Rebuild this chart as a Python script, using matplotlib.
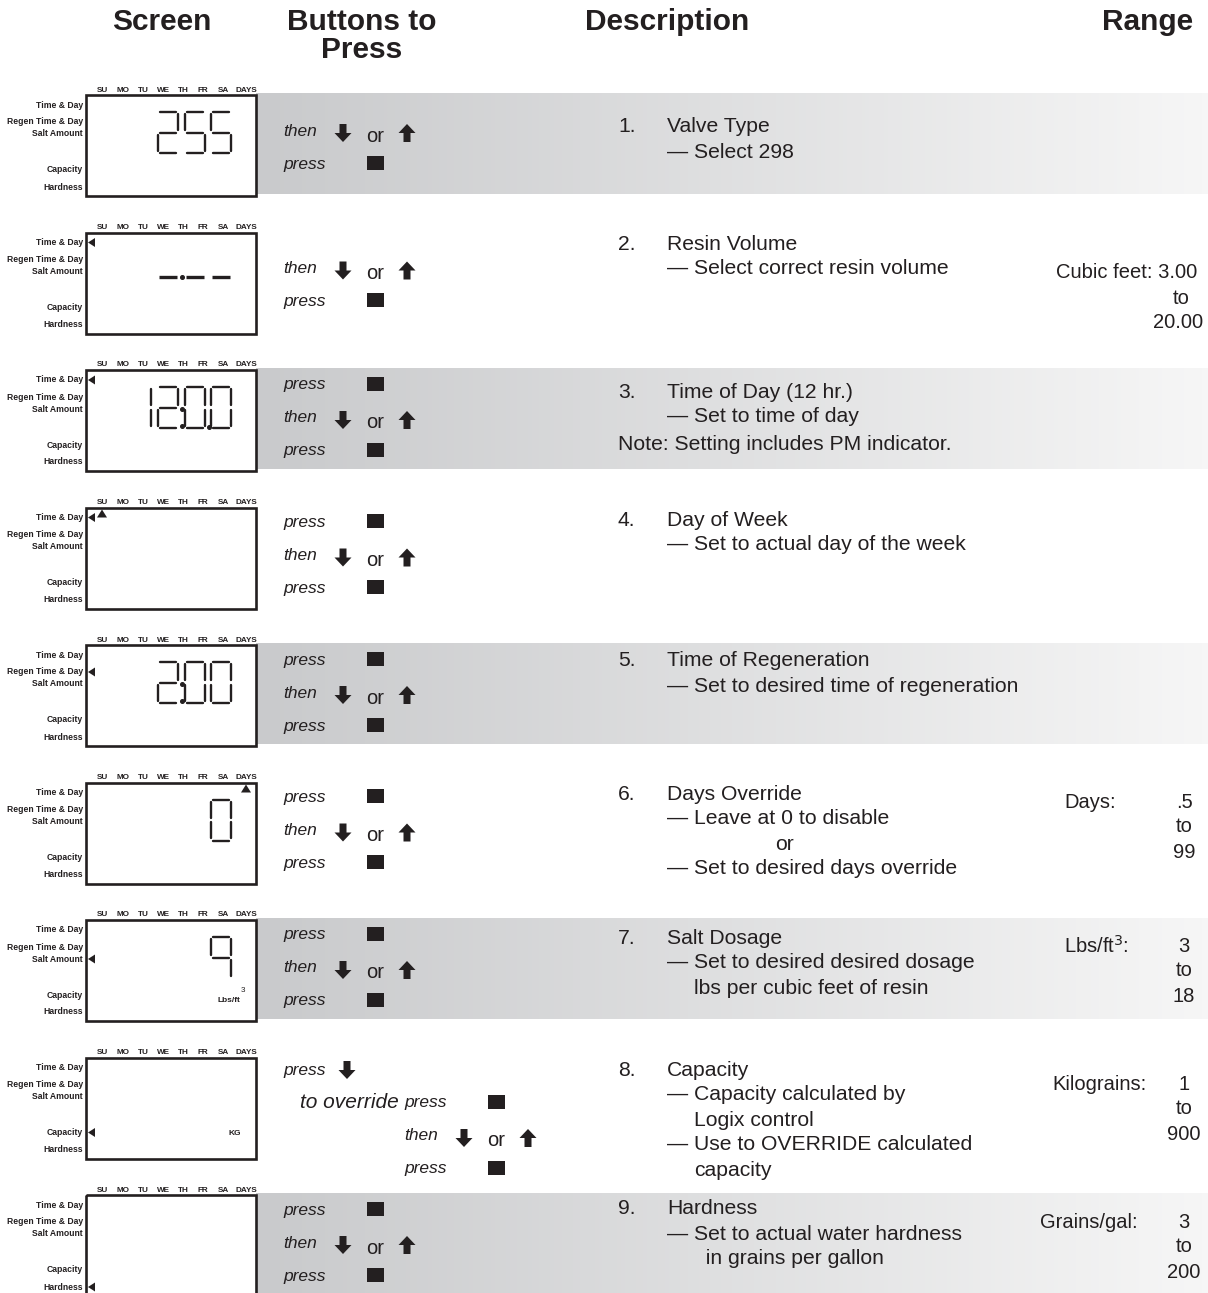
import numpy as np
import matplotlib
matplotlib.use('Agg')
import matplotlib.pyplot as plt
from matplotlib.colors import LinearSegmentedColormap
from matplotlib.patches import Polygon, Rectangle

plt.rcParams['font.family'] = ['Liberation Sans', 'DejaVu Sans']

W, H = 1208, 1293
INK = '#231f20'

# ---- data -------------------------------------------------------------
headers = ['Screen', 'Buttons to\nPress', 'Description', 'Range']

day_names = ['SU', 'MO', 'TU', 'WE', 'TH', 'FR', 'SA', 'DAYS']
side_labels = ['Time & Day', 'Regen Time & Day', 'Salt Amount', 'Capacity', 'Hardness']

# 4 digit slots per screen, extra dots, unit text, pointer arrows
screen_digits = [' 255', ' ---', '1200', '    ', ' 200', '   0', '   9', '    ', '    ']
screen_dots = [[], [('dash', 1)], [('colon', 1), ('point', 2)], [], [('colon', 1)],
               [], [], [], []]
screen_unit = ['', '', '', '', '', '', 'Lbs/ft', 'KG', '']
side_pointer = [None, 0, 0, 0, 1, None, 2, 3, 4]
day_pointer = [None, None, None, 0, None, 7, None, None, None]

button_steps = [
    [('then', 'updown'), ('press', 'set')],
    [('then', 'updown'), ('press', 'set')],
    [('press', 'set'), ('then', 'updown'), ('press', 'set')],
    [('press', 'set'), ('then', 'updown'), ('press', 'set')],
    [('press', 'set'), ('then', 'updown'), ('press', 'set')],
    [('press', 'set'), ('then', 'updown'), ('press', 'set')],
    [('press', 'set'), ('then', 'updown'), ('press', 'set')],
    [('press', 'down'), ('to override|press', 'set'), ('then', 'updown'), ('press', 'set')],
    [('press', 'set'), ('then', 'updown'), ('press', 'set')],
]

desc_titles = ['Valve Type', 'Resin Volume', 'Time of Day (12 hr.)', 'Day of Week',
               'Time of Regeneration', 'Days Override', 'Salt Dosage', 'Capacity', 'Hardness']
desc_lines = [
    ['\u2014 Select 298'],
    ['\u2014 Select correct resin volume'],
    ['\u2014 Set to time of day'],
    ['\u2014 Set to actual day of the week'],
    ['\u2014 Set to desired time of regeneration'],
    ['\u2014 Leave at 0 to disable', 'or', '\u2014 Set to desired days override'],
    ['\u2014 Set to desired desired dosage', 'lbs per cubic feet of resin'],
    ['\u2014 Capacity calculated by', 'Logix control', '\u2014 Use to OVERRIDE calculated',
     'capacity'],
    ['\u2014 Set to actual water hardness', '  in grains per gallon'],
]
desc_note = ['', '', 'Note: Setting includes PM indicator.', '', '', '', '', '', '']

range_labels = ['', 'Cubic feet:', '', '', '', 'Days:', 'Lbs/ft$^3$:', 'Kilograins:', 'Grains/gal:']
range_low = ['', '3.00', '', '', '', '.5', '3', '1', '3']
range_high = ['', '20.00', '', '', '', '99', '18', '900', '200']

# ---- layout (pixels) --------------------------------------------------
ROW0, PITCH = 95, 137.5
BOX_L, BOX_R, BOX_H = 86, 256, 101
slot_left = [131, 158, 185, 211]
day_x = [102, 123, 143, 163, 183, 203, 223, 246]
side_dy = [10, 27, 39, 75, 92]
step_start = {2: 36, 3: 15, 4: 12.5}
desc_dy = [32, 11.5, 22, 12.5, 16, 11.5, 18, 12.5, 14]
range_dy = [0, 40.5, 0, 0, 0, 19.5, 26, 26.5, 27]
range_lx = [0, 0, 0, 0, 0, 1064, 1064, 1052, 1040]
FS = 15.2   # description text size
RS = 14.5   # range text size

SEG = {'0': 'abcdef', '1': 'bc', '2': 'abged', '5': 'afgcd', '9': 'abcfg', '-': 'g'}


def draw_digit(ax, x0, y0, ch, w=20, h=41):
    g = 2.2
    ym = y0 + h / 2
    segs = {
        'a': ((x0 + g, x0 + w - g), (y0, y0)),
        'b': ((x0 + w, x0 + w), (y0 + g, ym - g)),
        'c': ((x0 + w, x0 + w), (ym + g, y0 + h - g)),
        'd': ((x0 + g, x0 + w - g), (y0 + h, y0 + h)),
        'e': ((x0, x0), (ym + g, y0 + h - g)),
        'f': ((x0, x0), (y0 + g, ym - g)),
        'g': ((x0 + g, x0 + w - g), (ym, ym)),
    }
    if ch == '-':
        yy = y0 + h * 0.68
        ax.plot([x0 + 1, x0 + w - 1], [yy, yy], color=INK, lw=2.4, solid_capstyle='butt')
        return
    for s in SEG.get(ch, ''):
        xs, ys = segs[s]
        ax.plot(xs, ys, color=INK, lw=1.7, solid_capstyle='round')


def down_arrow(ax, cx, cy):
    pts = [(cx - 3.5, cy - 9), (cx + 3.5, cy - 9), (cx + 3.5, cy), (cx + 8.5, cy),
           (cx, cy + 9), (cx - 8.5, cy), (cx - 3.5, cy)]
    ax.add_patch(Polygon(pts, closed=True, color=INK, lw=0))


def up_arrow(ax, cx, cy):
    pts = [(cx - 3.5, cy + 9), (cx + 3.5, cy + 9), (cx + 3.5, cy), (cx + 8.5, cy),
           (cx, cy - 9), (cx - 8.5, cy), (cx - 3.5, cy)]
    ax.add_patch(Polygon(pts, closed=True, color=INK, lw=0))


def set_key(ax, cx, cy):
    ax.add_patch(Rectangle((cx - 8.5, cy - 7.5), 17, 14, color=INK, lw=0))


fig = plt.figure(figsize=(W / 100, H / 100), dpi=100)
ax = fig.add_axes([0, 0, 1, 1])
ax.set_xlim(0, W)
ax.set_ylim(H, 0)
ax.axis('off')

# headers
hx = [162, 362, 667, 1148]
for x, t in zip(hx, headers):
    ax.text(x, 8, t, ha='center', va='top', fontsize=21.5, fontweight='bold',
            color=INK, linespacing=0.98)

band_cmap = LinearSegmentedColormap.from_list('band', ['#c9cacc', '#f6f6f6'])
grad = np.linspace(0, 1, 256)[None, :]

for r in range(9):
    top = ROW0 + r * PITCH

    # shaded band on odd rows
    if r % 2 == 0:
        ax.imshow(grad, cmap=band_cmap, extent=(BOX_R, W, top + 99, top - 2),
                  aspect='auto', zorder=0, interpolation='bilinear')

    # ---- screen ----
    ax.add_patch(Rectangle((BOX_L, top), BOX_R - BOX_L, BOX_H, fill=False,
                           edgecolor=INK, lw=1.9, zorder=3))
    for x, d in zip(day_x, day_names):
        ax.text(x, top - 5, d, ha='center', va='center', fontsize=5.9,
                fontweight='bold', color=INK)
    for dy, lab in zip(side_dy, side_labels):
        ax.text(83, top + dy, lab, ha='right', va='center', fontsize=6.2,
                fontweight='bold', color=INK)
    dtop = top + 17
    for k, ch in enumerate(screen_digits[r]):
        if ch != ' ':
            draw_digit(ax, slot_left[k], dtop, ch)
    for kind, k in screen_dots[r]:
        xd = (slot_left[k] + 20 + slot_left[k + 1]) / 2 + 0.5
        if kind == 'dash':
            ax.plot(xd, dtop + 41 * 0.66, 'o', ms=2.6, color=INK)
        elif kind == 'colon':
            ax.plot([xd, xd], [dtop + 22, dtop + 39], 'o', ms=2.6, color=INK, lw=0)
        else:
            ax.plot(xd, dtop + 40, 'o', ms=2.6, color=INK)
    if screen_unit[r] == 'Lbs/ft':
        ax.text(240, top + 80, 'Lbs/ft', ha='right', va='center', fontsize=6,
                fontweight='bold', color=INK)
        ax.text(243, top + 71, '3', ha='center', va='center', fontsize=5.8, color=INK)
    elif screen_unit[r]:
        ax.text(241, top + 76, screen_unit[r], ha='right', va='center', fontsize=6,
                fontweight='bold', color=INK)
    if side_pointer[r] is not None:
        yp = top + side_dy[side_pointer[r]]
        ax.add_patch(Polygon([(88, yp), (95, yp - 4.5), (95, yp + 4.5)], color=INK, lw=0))
    if day_pointer[r] is not None:
        xp = day_x[day_pointer[r]]
        ax.add_patch(Polygon([(xp - 5, top + 10), (xp + 5, top + 10), (xp, top + 2)],
                             color=INK, lw=0))

    # ---- buttons ----
    steps = button_steps[r]
    y = top + step_start[len(steps)]
    for k, (word, key) in enumerate(steps):
        shift = 121 if (r == 7 and k > 0) else 0
        wx = 283 + shift
        if '|' in word:
            pre, word = word.split('|')
            ax.text(wx - 5, y, pre, ha='right', va='center', fontsize=15,
                    style='italic', color=INK)
        ax.text(wx, y, word, ha='left', va='center', fontsize=12.5,
                style='italic', color=INK)
        if key == 'set':
            set_key(ax, 375 + shift, y - 1)
        elif key == 'down':
            down_arrow(ax, 347, y)
        else:
            down_arrow(ax, 343 + shift, y + 2)
            ax.text(375 + shift, y + 5, 'or', ha='center', va='center',
                    fontsize=14.5, color=INK)
            up_arrow(ax, 407 + shift, y + 2)
        y += 33

    # ---- description ----
    yd = top + desc_dy[r]
    ax.text(618, yd, '%d.' % (r + 1), ha='left', va='center', fontsize=FS, color=INK)
    ax.text(667, yd, desc_titles[r], ha='left', va='center', fontsize=FS, color=INK)
    for line in desc_lines[r]:
        yd += 25
        if line == 'or':
            ax.text(784, yd, line, ha='center', va='center', fontsize=FS, color=INK)
        elif line.startswith('\u2014'):
            ax.text(667, yd, line, ha='left', va='center', fontsize=FS, color=INK)
        else:
            ax.text(694, yd, line, ha='left', va='center', fontsize=FS, color=INK)
    if desc_note[r]:
        ax.text(618, yd + 28, desc_note[r], ha='left', va='center', fontsize=FS,
                color=INK)

    # ---- range ----
    if range_labels[r]:
        yr = top + range_dy[r]
        if r == 1:
            ax.text(1197, yr, range_labels[r] + ' ' + range_low[r], ha='right',
                    va='center', fontsize=RS, color=INK)
            ax.text(1181, yr + 25, 'to', ha='center', va='center', fontsize=RS, color=INK)
            ax.text(1203, yr + 50, range_high[r], ha='right', va='center',
                    fontsize=RS, color=INK)
        else:
            ax.text(range_lx[r], yr, range_labels[r], ha='left', va='center',
                    fontsize=RS, color=INK)
            ax.text(1184, yr, range_low[r], ha='center', va='center', fontsize=RS,
                    color=INK)
            ax.text(1184, yr + 25, 'to', ha='center', va='center', fontsize=RS,
                    color=INK)
            ax.text(1184, yr + 50, range_high[r], ha='center', va='center',
                    fontsize=RS, color=INK)

fig.savefig('out.png', dpi=100)
